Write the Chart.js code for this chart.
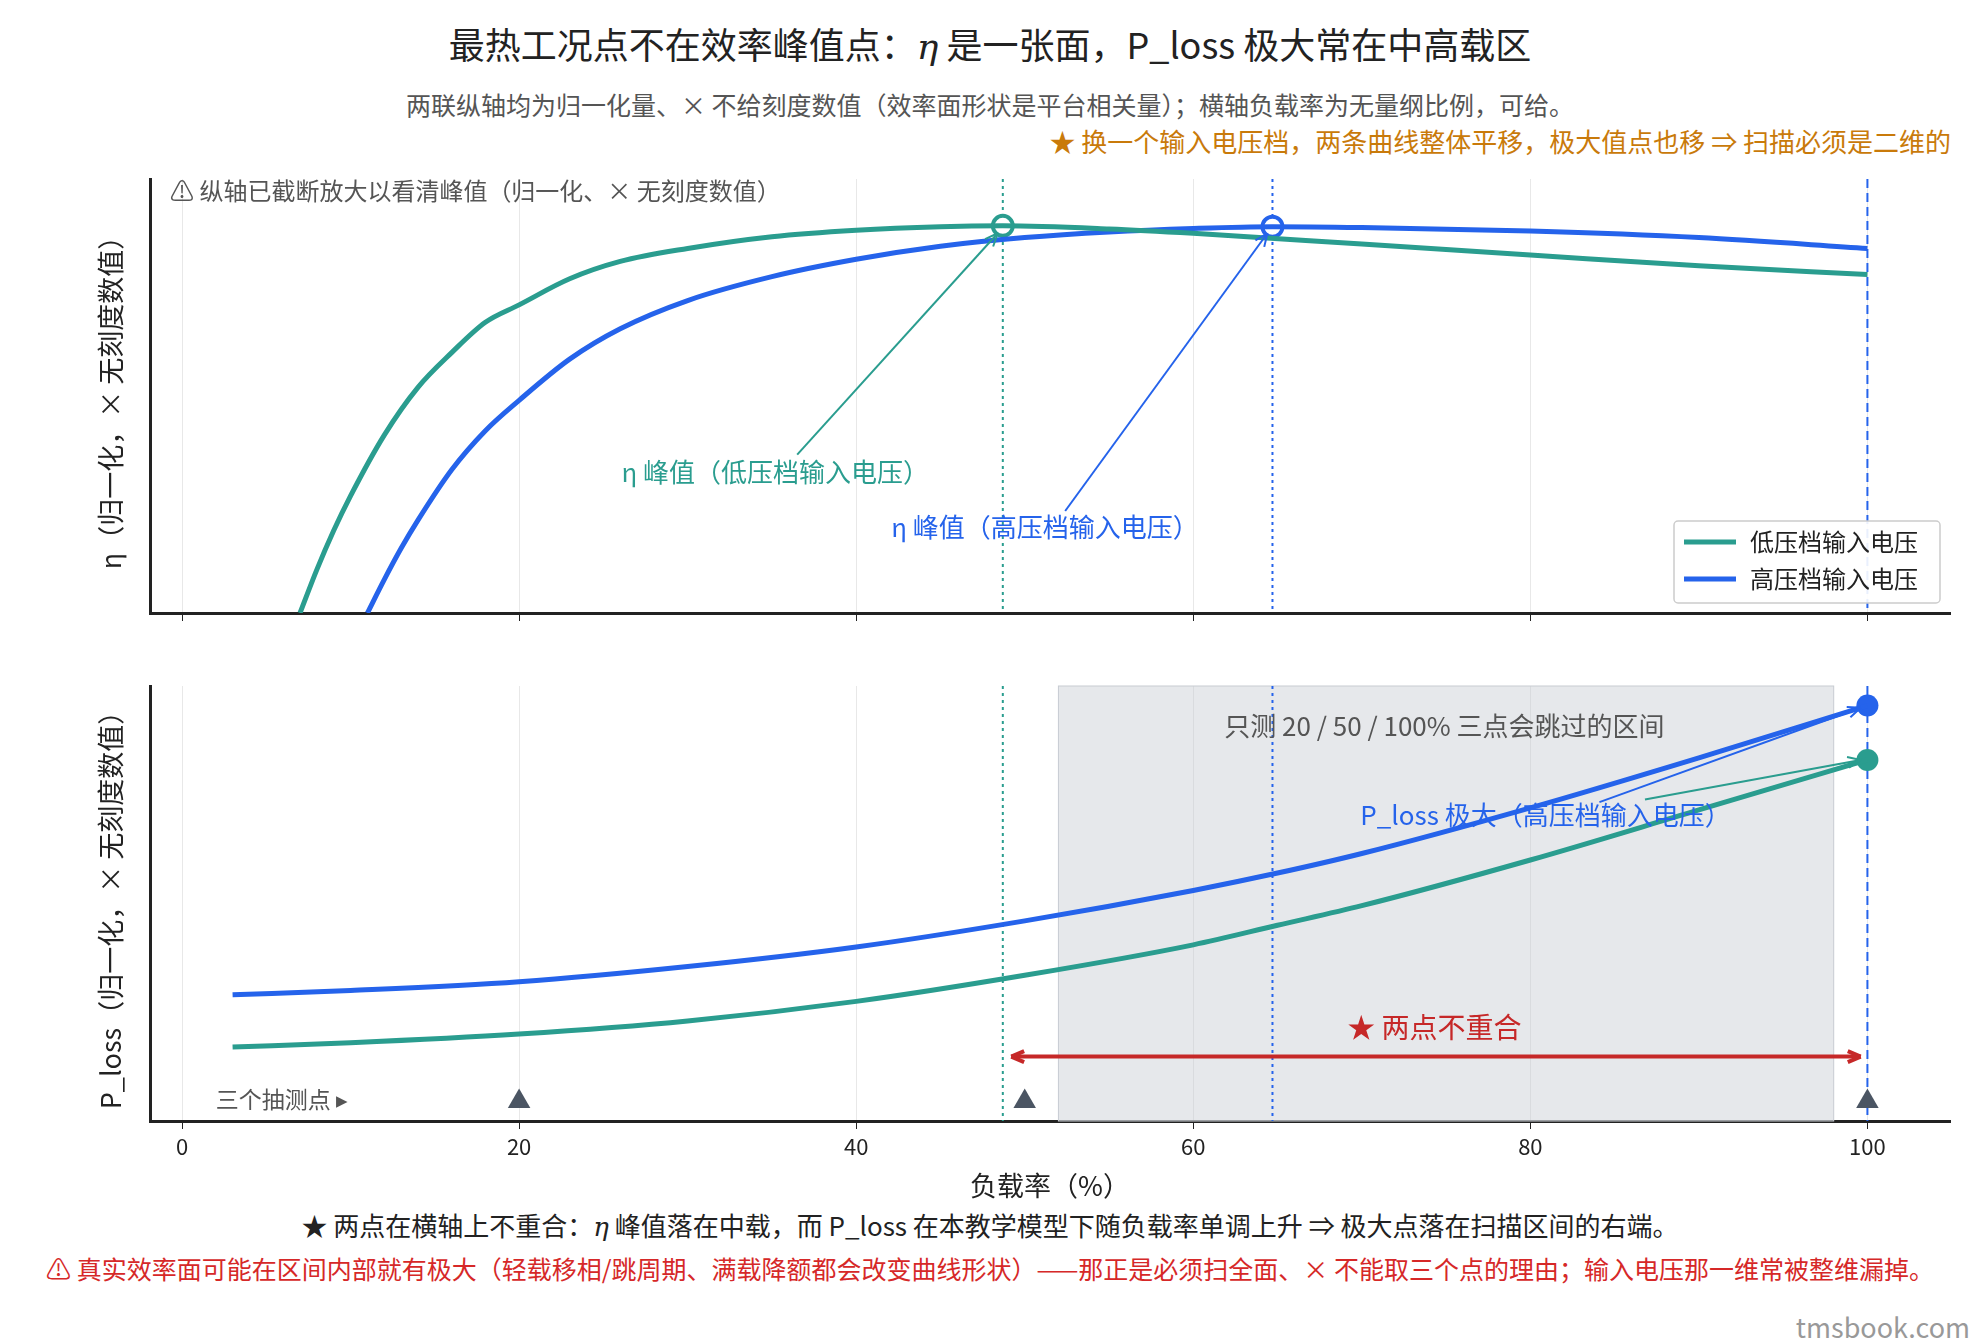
<!DOCTYPE html>
<html><head><meta charset="utf-8">
<script src="https://cdn.jsdelivr.net/npm/chart.js@4"></script>
<style>
body{margin:0;width:1980px;height:1343px;background:#fff;position:relative;font-family:"Noto Sans CJK SC","Noto Sans",sans-serif;overflow:hidden}
.t{position:absolute;white-space:nowrap}
canvas{position:absolute;left:0}
</style></head><body>
<div class="t" style="top:17px;left:0;width:1980px;text-align:center;font-size:36px;color:#222">最热工况点不在效率峰值点：<i style="font-family:'DejaVu Serif'">η</i> 是一张面，P_loss 极大常在中高载区</div>
<div class="t" style="top:86px;left:0;width:1980px;text-align:center;font-size:25px;color:#555">两联纵轴均为归一化量、× 不给刻度数值（效率面形状是平台相关量）；横轴负载率为无量纲比例，可给。</div>
<div class="t" style="top:122px;right:29px;font-size:26px;color:#c97a0a">★ 换一个输入电压档，两条曲线整体平移，极大值点也移 ⇒ 扫描必须是二维的</div>
<div class="t" style="top:1206px;left:0;width:1980px;text-align:center;font-size:26px;color:#222">★ 两点在横轴上不重合：<i style="font-family:'DejaVu Serif'">η</i> 峰值落在中载，而 P_loss 在本教学模型下随负载率单调上升 ⇒ 极大点落在扫描区间的右端。</div>
<div class="t" style="top:1250px;left:0;width:1980px;text-align:center;font-size:25px;color:#d62828">⚠ 真实效率面可能在区间内部就有极大（轻载移相/跳周期、满载降额都会改变曲线形状）——那正是必须扫全面、× 不能取三个点的理由；输入电压那一维常被整维漏掉。</div>
<div class="t" style="top:1307px;right:10px;font-size:27px;color:#999">tmsbook.com</div>
<canvas id="c1" style="top:165px" width="1980" height="468"></canvas>
<canvas id="c2" style="top:673px" width="1980" height="533"></canvas>
<script>
const GREEN = '#2a9d8f', BLUE = '#2563eb', RED = '#c62828', GREY = '#4b5563';
const FONT = 'Noto Sans CJK SC';

// data
const xTicks = [0, 20, 40, 60, 80, 100];
const etaLowX = [7, 8, 9, 10, 12, 14, 16, 18, 20, 23, 26, 30, 35, 40, 45, 48.7, 55, 60, 70, 80, 90, 100];
const etaLowY = [0, 0.10, 0.19, 0.27, 0.41, 0.52, 0.60, 0.67, 0.71, 0.77, 0.81, 0.84, 0.867, 0.882, 0.89, 0.892, 0.885, 0.875, 0.85, 0.825, 0.80, 0.78];
const etaHighX = [11, 12, 13, 14, 16, 18, 20, 23, 26, 30, 35, 40, 45, 50, 55, 60, 64.7, 70, 80, 90, 100];
const etaHighY = [0, 0.077, 0.149, 0.214, 0.33, 0.42, 0.49, 0.585, 0.655, 0.72, 0.775, 0.815, 0.845, 0.865, 0.878, 0.886, 0.89, 0.888, 0.88, 0.865, 0.84];
const lossX = [3, 10, 20, 30, 40, 50, 60, 65, 70, 80, 90, 100];
const lossHighY = [0.29, 0.30, 0.32, 0.355, 0.40, 0.46, 0.53, 0.57, 0.615, 0.72, 0.835, 0.955];
const lossLowY = [0.17, 0.18, 0.20, 0.23, 0.275, 0.335, 0.405, 0.45, 0.495, 0.60, 0.715, 0.83];
const etaPeakLow = 48.7, etaPeakHigh = 64.7;
const sampleX = [20, 50, 100];
const skipRange = [52, 98];

const pts = (xs, ys) => xs.map((x, i) => ({x, y: ys[i]}));

const overlay = {
  id: 'overlay',
  beforeDatasetsDraw(chart, args, o) {
    const {ctx, chartArea: a, scales: {x, y}} = chart;
    ctx.save();
    if (o.shade) {
      const x0 = x.getPixelForValue(o.shade[0]), x1 = x.getPixelForValue(o.shade[1]);
      ctx.fillStyle = 'rgba(200,204,210,0.45)';
      ctx.fillRect(x0, a.top, x1 - x0, a.bottom - a.top);
      ctx.strokeStyle = '#c8ccd2'; ctx.lineWidth = 1;
      ctx.strokeRect(x0, a.top, x1 - x0, a.bottom - a.top);
    }
    [[etaPeakLow, GREEN, [3, 4]], [etaPeakHigh, BLUE, [3, 4]], [100, BLUE, [9, 5]]].forEach(([v, c, d]) => {
      const px = x.getPixelForValue(v);
      ctx.strokeStyle = c; ctx.lineWidth = 2; ctx.setLineDash(d);
      ctx.beginPath(); ctx.moveTo(px, a.top); ctx.lineTo(px, a.bottom); ctx.stroke();
    });
    ctx.restore();
  },
  afterDatasetsDraw(chart, args, o) {
    const {ctx, chartArea: a, scales: {x, y}} = chart;
    ctx.save();
    (o.arrows || []).forEach(ar => {
      const x1 = x.getPixelForValue(ar.from[0]), y1 = y.getPixelForValue(ar.from[1]);
      const x2 = x.getPixelForValue(ar.to[0]), y2 = y.getPixelForValue(ar.to[1]);
      ctx.strokeStyle = ar.color; ctx.lineWidth = ar.w || 2;
      ctx.beginPath(); ctx.moveTo(x1, y1); ctx.lineTo(x2, y2); ctx.stroke();
      const heads = ar.both ? [[x2, y2, x1, y1], [x1, y1, x2, y2]] : [[x2, y2, x1, y1]];
      heads.forEach(([hx, hy, bx, by]) => {
        const ang = Math.atan2(hy - by, hx - bx), L = 14;
        ctx.beginPath(); ctx.moveTo(hx, hy);
        ctx.lineTo(hx - L * Math.cos(ang - 0.4), hy - L * Math.sin(ang - 0.4));
        ctx.moveTo(hx, hy);
        ctx.lineTo(hx - L * Math.cos(ang + 0.4), hy - L * Math.sin(ang + 0.4));
        ctx.stroke();
      });
    });
    (o.texts || []).forEach(t => {
      ctx.font = (t.size || 26) + 'px "' + FONT + '"';
      ctx.fillStyle = t.color; ctx.textAlign = t.align || 'center'; ctx.textBaseline = 'middle';
      const px = t.px != null ? a.left + t.px : x.getPixelForValue(t.at[0]);
      const py = t.py != null ? a.top + t.py : y.getPixelForValue(t.at[1]);
      ctx.fillText(t.text, px, py);
    });
    if (o.legend) {
      const bx = a.right - 276, by = a.bottom - 92, w = 266, h = 82;
      ctx.fillStyle = 'rgba(255,255,255,0.9)'; ctx.strokeStyle = '#ccc'; ctx.lineWidth = 1.5;
      ctx.beginPath(); ctx.roundRect(bx, by, w, h, 4); ctx.fill(); ctx.stroke();
      [['低压档输入电压', GREEN], ['高压档输入电压', BLUE]].forEach(([l, c], i) => {
        const yy = by + 21 + i * 37;
        ctx.strokeStyle = c; ctx.lineWidth = 5;
        ctx.beginPath(); ctx.moveTo(bx + 10, yy); ctx.lineTo(bx + 62, yy); ctx.stroke();
        ctx.fillStyle = '#222'; ctx.font = '24px "' + FONT + '"'; ctx.textAlign = 'left'; ctx.textBaseline = 'middle';
        ctx.fillText(l, bx + 76, yy);
      });
    }
    ctx.restore();
  }
};

function lineDs(data, color) {
  return {type: 'line', data, borderColor: color, borderWidth: 5, pointRadius: 0, cubicInterpolationMode: 'monotone', fill: false};
}

function makeOptions(yTitle, xBottom, plug) {
  return {
    responsive: false, animation: false,
    layout: {padding: {top: 10, right: 30, left: 0, bottom: 0}},
    plugins: {legend: {display: false}, tooltip: {enabled: false}, overlay: plug},
    scales: {
      x: {type: 'linear', min: -1.9, max: 104.9,
        afterBuildTicks: s => { s.ticks = xTicks.map(v => ({value: v})); },
        afterFit: s => { s.height = xBottom ? 85 : 20; },
        grid: {color: '#e8e8e8', lineWidth: 1, tickColor: '#222', tickLength: 8},
        border: {color: '#222', width: 3},
        ticks: {display: xBottom, color: '#222', font: {size: 22, family: FONT}, padding: 4},
        title: {display: xBottom, text: '负载率（%）', color: '#222', font: {size: 27, family: FONT}, padding: {top: 4}}
      },
      y: {min: 0, max: 1,
        afterFit: s => { s.width = 150; },
        grid: {display: false},
        border: {color: '#222', width: 3},
        ticks: {display: false},
        title: {display: true, text: yTitle, color: '#222', font: {size: 27, family: FONT}, padding: {top: 95, bottom: 0}}
      }
    }
  };
}

new Chart(document.getElementById('c1'), {
  data: {datasets: [
    lineDs(pts(etaLowX, etaLowY), GREEN),
    lineDs(pts(etaHighX, etaHighY), BLUE),
    {type: 'scatter', data: [{x: etaPeakLow, y: 0.892}], pointRadius: 10, borderWidth: 4, borderColor: GREEN, backgroundColor: '#fff'},
    {type: 'scatter', data: [{x: etaPeakHigh, y: 0.89}], pointRadius: 10, borderWidth: 4, borderColor: BLUE, backgroundColor: '#fff'}
  ]},
  options: makeOptions('η（归一化，× 无刻度数值）', false, {
    legend: true,
    arrows: [
      {from: [36.5, 0.365], to: [48.4, 0.875], color: GREEN},
      {from: [52.4, 0.235], to: [64.4, 0.875], color: BLUE}
    ],
    texts: [
      {text: '⚠ 纵轴已截断放大以看清峰值（归一化、× 无刻度数值）', px: 20, py: 12, color: '#555', align: 'left', size: 24},
      {text: 'η 峰值（低压档输入电压）', at: [35.2, 0.325], color: GREEN},
      {text: 'η 峰值（高压档输入电压）', at: [51.2, 0.197], color: BLUE}
    ]
  })
, plugins: [overlay]});

new Chart(document.getElementById('c2'), {
  data: {datasets: [
    lineDs(pts(lossX, lossLowY), GREEN),
    lineDs(pts(lossX, lossHighY), BLUE),
    {type: 'scatter', data: [{x: 100, y: 0.955}], pointRadius: 11, borderWidth: 0, backgroundColor: BLUE},
    {type: 'scatter', data: [{x: 100, y: 0.83}], pointRadius: 11, borderWidth: 0, backgroundColor: GREEN},
    {type: 'scatter', data: sampleX.map(v => ({x: v, y: 0.045})), pointStyle: 'triangle', pointRadius: 13, borderWidth: 0, backgroundColor: GREY}
  ]},
  options: makeOptions('P_loss（归一化，× 无刻度数值）', true, {
    shade: skipRange,
    arrows: [
      {from: [84.1, 0.733], to: [99.6, 0.95], color: BLUE},
      {from: [86.8, 0.739], to: [99.6, 0.83], color: GREEN},
      {from: [49.2, 0.148], to: [99.6, 0.148], color: RED, w: 4, both: true}
    ],
    texts: [
      {text: '只测 20 / 50 / 100% 三点会跳过的区间', at: [74.9, 0.907], color: '#555', size: 26},
      {text: 'P_loss 极大（高压档输入电压）', at: [80.9, 0.704], color: BLUE},
      {text: '★ 两点不重合', at: [74.3, 0.215], color: RED, size: 28},
      {text: '三个抽测点 ▸', at: [2, 0.05], color: '#555', align: 'left', size: 23}
    ]
  })
, plugins: [overlay]});
</script>
</body></html>
